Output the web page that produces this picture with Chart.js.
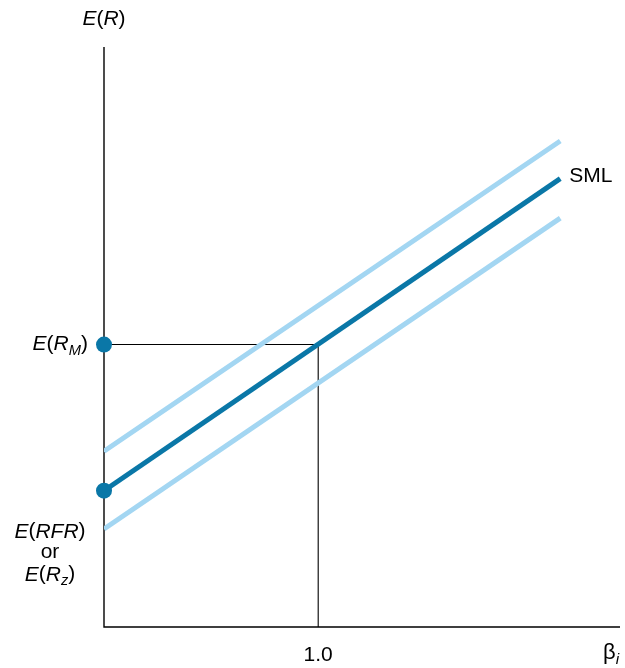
<!DOCTYPE html>
<html>
<head>
<meta charset="utf-8">
<script src="https://cdn.jsdelivr.net/npm/chart.js@4.4.1/dist/chart.umd.min.js"></script>
<style>
  html, body { margin: 0; padding: 0; background: #fff; overflow: hidden; }
  canvas { display: block; }
</style>
</head>
<body>
<canvas id="sml" width="625" height="668"></canvas>
<script>
// --- data (beta on x, expected return in arbitrary units on y) ---
const betaEnds = [0, 2.13];
const smlValues = [2.35, 7.73];
const upperBand = [3.03, 8.38];
const lowerBand = [1.69, 7.05];
const marketBeta = 1.0;
const marketReturn = 4.87;
const riskFree = 2.35;
const xTickLabels = ['1.0'];

const DARK = '#0a77a7';
const LIGHT = '#a3d6f2';
const FONT = '"Liberation Sans", Arial, sans-serif';

function toPts(ys) { return betaEnds.map((b, i) => ({ x: b, y: ys[i] })); }

// draws text made of pieces: {t, it (italic), sub}
function richText(ctx, parts, x, y, align, size) {
  const sizes = parts.map(p => p.sub ? size * 0.7 : size);
  let w = 0;
  parts.forEach((p, i) => {
    ctx.font = (p.it ? 'italic ' : '') + sizes[i] + 'px ' + FONT;
    w += ctx.measureText(p.t).width;
  });
  let cx = align === 'right' ? x - w : align === 'center' ? x - w / 2 : x;
  parts.forEach((p, i) => {
    ctx.font = (p.it ? 'italic ' : '') + sizes[i] + 'px ' + FONT;
    ctx.textAlign = 'left';
    ctx.textBaseline = 'middle';
    ctx.fillText(p.t, cx, p.sub ? y + size * 0.3 : y);
    cx += ctx.measureText(p.t).width;
  });
}

const axesPlugin = {
  id: 'axesPlugin',
  beforeDatasetsDraw(chart) {
    const { ctx, chartArea: a, scales: { x, y } } = chart;
    ctx.save();
    ctx.strokeStyle = '#000';
    // axes
    ctx.lineWidth = 1.4;
    ctx.beginPath();
    ctx.moveTo(a.left, a.top);
    ctx.lineTo(a.left, a.bottom);
    ctx.lineTo(chart.width - 5, a.bottom);
    ctx.stroke();
    // guides to the market portfolio
    const mx = x.getPixelForValue(marketBeta);
    const my = y.getPixelForValue(marketReturn);
    ctx.lineWidth = 1.1;
    ctx.beginPath();
    ctx.moveTo(a.left, my);
    ctx.lineTo(mx, my);
    ctx.lineTo(mx, a.bottom);
    ctx.stroke();
    ctx.restore();
  },
  afterDraw(chart) {
    const { ctx, chartArea: a, scales: { x, y } } = chart;
    ctx.save();
    ctx.fillStyle = '#000';
    const s = 21;
    richText(ctx, [{ t: 'E', it: true }, { t: '(' }, { t: 'R', it: true }, { t: ')' }], a.left, 19, 'center', s);
    richText(ctx, [{ t: 'E', it: true }, { t: '(' }, { t: 'R', it: true }, { t: 'M', it: true, sub: true }, { t: ')' }],
      88, y.getPixelForValue(marketReturn), 'right', s);
    const rfY = y.getPixelForValue(riskFree);
    richText(ctx, [{ t: 'E', it: true }, { t: '(' }, { t: 'RFR', it: true }, { t: ')' }], 50, rfY + 41, 'center', s);
    richText(ctx, [{ t: 'or' }], 50, rfY + 62, 'center', s);
    richText(ctx, [{ t: 'E', it: true }, { t: '(' }, { t: 'R', it: true }, { t: 'z', it: true, sub: true }, { t: ')' }], 50, rfY + 84, 'center', s);
    // x tick and axis title
    richText(ctx, [{ t: xTickLabels[0] }], x.getPixelForValue(marketBeta), 655, 'center', s);
    richText(ctx, [{ t: 'β' }, { t: 'i', it: true, sub: true }], 603, 653, 'left', s + 1);
    // SML label
    richText(ctx, [{ t: 'SML' }], x.getPixelForValue(betaEnds[1]) + 9, y.getPixelForValue(smlValues[1]) - 2, 'left', s);
    ctx.restore();
  }
};

new Chart(document.getElementById('sml'), {
  type: 'scatter',
  data: {
    datasets: [
      { data: toPts(upperBand), showLine: true, borderColor: LIGHT, borderWidth: 5, pointRadius: 0, borderCapStyle: 'butt' },
      { data: toPts(lowerBand), showLine: true, borderColor: LIGHT, borderWidth: 5, pointRadius: 0, borderCapStyle: 'butt' },
      { data: toPts(smlValues), showLine: true, borderColor: DARK, borderWidth: 5, pointRadius: 0, borderCapStyle: 'butt' },
      {
        data: [{ x: 0, y: marketReturn }, { x: 0, y: riskFree }],
        showLine: false, pointRadius: 8, pointBackgroundColor: DARK, pointBorderWidth: 0, clip: false
      }
    ]
  },
  options: {
    responsive: false,
    animation: false,
    layout: { padding: { left: 104, top: 47, right: 5, bottom: 41 } },
    plugins: { legend: { display: false }, tooltip: { enabled: false } },
    scales: {
      x: { type: 'linear', min: 0, max: 2.395, display: false },
      y: { type: 'linear', min: 0, max: 10, display: false }
    }
  },
  plugins: [axesPlugin]
});
</script>
</body>
</html>
